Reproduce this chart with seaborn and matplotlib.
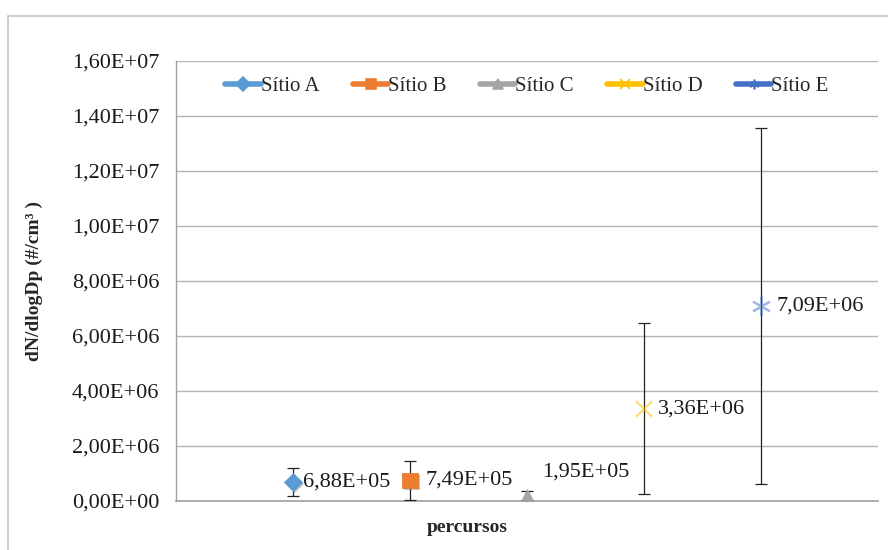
import matplotlib
matplotlib.use("Agg")
import matplotlib.pyplot as plt
import matplotlib.patheffects as pe
from matplotlib.lines import Line2D
from matplotlib.patches import Rectangle
from matplotlib.ticker import FuncFormatter, MultipleLocator
import numpy as np
import pandas as pd
import seaborn as sns

# Data
sites = ["Sítio A", "Sítio B", "Sítio C", "Sítio D", "Sítio E"]
means = [6.88e5, 7.49e5, 1.95e5, 3.36e6, 7.09e6]
errors = [0.50e6, 0.70e6, 0.16e6, 3.11e6, 6.47e6]
value_labels = ["6,88E+05", "7,49E+05", "1,95E+05", "3,36E+06", "7,09E+06"]

colors = ["#5B9BD5", "#ED7D31", "#A5A5A5", "#FFC000", "#4472C4"]
markers = ["D", "s", "^", "x", (6, 2, 0)]
msizes = [9, 11, 10, 12, 14]
malpha = [1.0, 1.0, 1.0, 0.55, 0.5]
label_offsets = [(7, 0), (11, 0), (11, 17), (10, 0), (11, 0)]

df = pd.DataFrame({"site": sites, "value": means, "err": errors})
df["pos"] = np.arange(1, len(df) + 1)

sns.set_theme(style="white")
plt.rcParams["font.family"] = ["Liberation Serif", "DejaVu Serif"]

fig = plt.figure(figsize=(8.88, 5.5), dpi=100)
ax = fig.add_axes([176 / 888, 1 - 501 / 550, (878 - 176) / 888, (501 - 61) / 550])

# outer chart frame
fig.patches.append(Rectangle((8 / 888, -0.2), 1.2, 1 - 16 / 550 + 0.2,
                             transform=fig.transFigure, fill=False,
                             edgecolor="#c4c4c4", lw=1.2, zorder=0))

# error bars
ax.errorbar(df["pos"], df["value"], yerr=df["err"], fmt="none",
            ecolor="#222222", elinewidth=0.9, capsize=4, capthick=0.9, zorder=3)

# points, one series per site
shadow = [pe.SimplePatchShadow(offset=(1.5, -1.5), shadow_rgbFace="#555555", alpha=0.35), pe.Normal()]
for i, row in df.iterrows():
    sub = df.iloc[[i]]
    sns.lineplot(data=sub, x="pos", y="value", ax=ax, color=colors[i],
                 marker=markers[i], markersize=msizes[i], linestyle="none",
                 markeredgewidth=1.5 if i >= 3 else 0.6,
                 markeredgecolor=colors[i], alpha=malpha[i], legend=False,
                 zorder=4, path_effects=shadow if i < 3 else None)
    ax.annotate(value_labels[i], (row["pos"], row["value"]),
                xytext=label_offsets[i], textcoords="offset points",
                ha="left", va="center", fontsize=16, color="#1a1a1a", zorder=5)

ax.set_xlim(0, 6)
ax.set_ylim(0, 1.6e7)
ax.set_xticks([])
ax.yaxis.set_major_locator(MultipleLocator(2e6))


def sci_comma(v, _):
    if v == 0:
        return "0,00E+00"
    exp = int(np.floor(np.log10(abs(v))))
    mant = v / 10 ** exp
    return f"{mant:.2f}".replace(".", ",") + f"E+{exp:02d}"


ax.yaxis.set_major_formatter(FuncFormatter(sci_comma))
ax.tick_params(axis="y", labelsize=16, colors="#1a1a1a", length=0, pad=12)
ax.grid(axis="y", color="#b5b5b5", lw=1)
ax.set_axisbelow(True)
for s in ["top", "right"]:
    ax.spines[s].set_visible(False)
ax.spines["left"].set_color("#a0a0a0")
ax.spines["bottom"].set_color("#a0a0a0")
ax.spines["left"].set_linewidth(1)
ax.spines["bottom"].set_linewidth(1.2)

ax.set_ylabel("dN/dlogDp (#/cm³ )", fontsize=14, fontweight="bold", labelpad=21)
ax.set_xlabel("")
fig.text(467 / 888, 1 - 528 / 550, "percursos", ha="center", va="center",
         fontsize=14, fontweight="bold")

handles = [Line2D([0], [0], color=c, lw=4, marker=m, markersize=7,
                  markeredgecolor=c, markeredgewidth=1.2)
           for c, m in zip(colors, markers)]
fig.legend(handles, sites, loc="center", bbox_to_anchor=(527 / 888, 1 - 86 / 550),
           ncol=5, frameon=False, fontsize=15, handlelength=1.7,
           handletextpad=0.0, columnspacing=1.6)

fig.savefig("out.png", dpi=100)
